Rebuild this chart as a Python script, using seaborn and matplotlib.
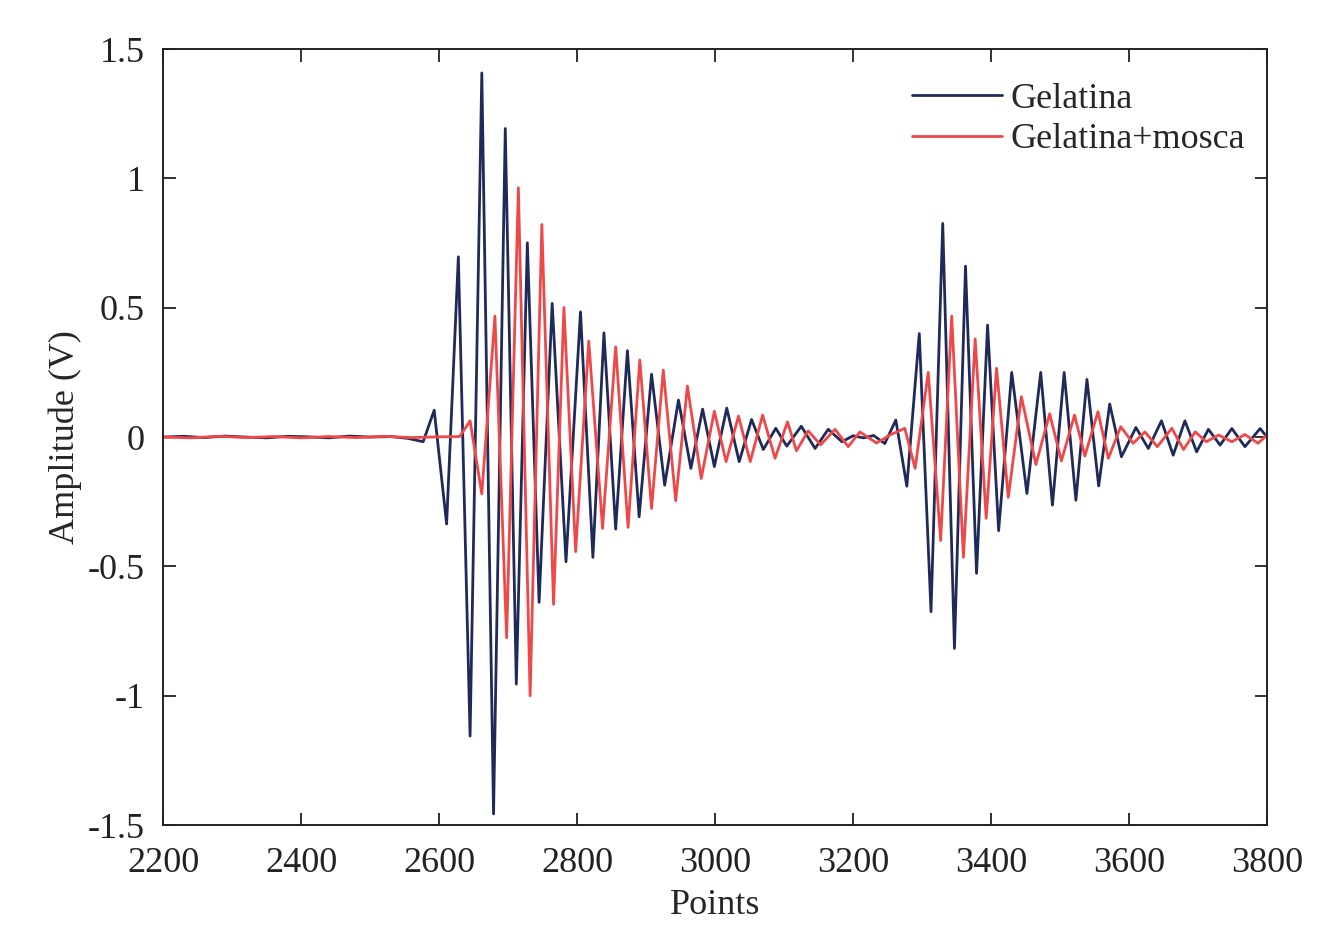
import numpy as np
import pandas as pd
import matplotlib
matplotlib.use("Agg")
import matplotlib.pyplot as plt
import seaborn as sns

# extrema (points, volts)
gel_x = [2200, 2230, 2260, 2290, 2320, 2350, 2380, 2410, 2440, 2470, 2500, 2530, 2555,
         2577, 2593, 2611, 2628, 2645, 2662, 2679, 2696, 2712, 2728, 2745, 2764, 2784,
         2805, 2823, 2839, 2856, 2873, 2890, 2908, 2927, 2947, 2965, 2982, 2999, 3017,
         3035, 3053, 3070, 3088, 3104, 3125, 3145, 3164, 3184, 3200, 3215, 3230, 3246,
         3262, 3278, 3296, 3313, 3330, 3347, 3363, 3379, 3395, 3411, 3430, 3452, 3472,
         3489, 3506, 3523, 3539, 3556, 3572, 3589, 3610, 3628, 3647, 3664, 3681, 3698,
         3715, 3732, 3749, 3768, 3790, 3800]
gel_y = [0.0, 0.003, -0.002, 0.004, 0.0, -0.003, 0.003, 0.001, -0.003, 0.004, 0.0, 0.002, -0.005,
         -0.018, 0.104, -0.336, 0.697, -1.156, 1.408, -1.457, 1.193, -0.955, 0.751, -0.639, 0.517, -0.482,
         0.484, -0.465, 0.403, -0.356, 0.334, -0.308, 0.243, -0.186, 0.143, -0.121, 0.108, -0.114, 0.112,
         -0.095, 0.068, -0.048, 0.034, -0.035, 0.042, -0.044, 0.030, -0.018, 0.005, -0.003, 0.006, -0.025,
         0.066, -0.190, 0.400, -0.675, 0.826, -0.817, 0.661, -0.527, 0.433, -0.362, 0.250, -0.218, 0.250,
         -0.263, 0.250, -0.244, 0.223, -0.189, 0.128, -0.076, 0.037, -0.044, 0.063, -0.070, 0.063, -0.057,
         0.030, -0.031, 0.033, -0.037, 0.033, 0.0]

mos_x = [2200, 2240, 2280, 2320, 2360, 2400, 2440, 2480, 2520, 2560, 2600, 2630,
         2645, 2662, 2681, 2698, 2715, 2732, 2749, 2766, 2781, 2798, 2817, 2837, 2856,
         2874, 2891, 2908, 2925, 2943, 2960, 2980, 2999, 3016, 3034, 3051, 3069, 3087,
         3105, 3118, 3135, 3153, 3174, 3193, 3210, 3234, 3255, 3275, 3290, 3309, 3327,
         3343, 3360, 3377, 3393, 3408, 3425, 3444, 3465, 3485, 3502, 3521, 3536, 3555,
         3570, 3588, 3606, 3623, 3641, 3662, 3679, 3696, 3712, 3730, 3749, 3768, 3787, 3800]
mos_y = [0.0, -0.003, 0.003, -0.002, 0.002, -0.003, 0.002, -0.002, 0.003, -0.002, 0.001, 0.002,
         0.063, -0.220, 0.468, -0.776, 0.964, -1.0, 0.822, -0.647, 0.501, -0.443, 0.371, -0.353, 0.349,
         -0.349, 0.298, -0.276, 0.259, -0.246, 0.197, -0.160, 0.100, -0.095, 0.081, -0.095, 0.085, -0.082,
         0.059, -0.053, 0.024, -0.030, 0.030, -0.037, 0.020, -0.023, 0.010, 0.034, -0.121, 0.250, -0.400,
         0.468, -0.465, 0.380, -0.314, 0.266, -0.233, 0.156, -0.106, 0.090, -0.092, 0.085, -0.073, 0.098,
         -0.082, 0.040, -0.024, 0.020, -0.037, 0.034, -0.048, 0.020, -0.018, 0.008, -0.018, 0.010, -0.024, 0.008]

x_ticks = [2200, 2400, 2600, 2800, 3000, 3200, 3400, 3600, 3800]
y_ticks = [-1.5, -1, -0.5, 0, 0.5, 1, 1.5]
y_labels = ['-1.5', '-1', '-0.5', '0', '0.5', '1', '1.5']

sns.set_style("ticks")
plt.rcParams['font.family'] = ['Liberation Serif', 'DejaVu Serif']
plt.rcParams['xtick.direction'] = 'in'
plt.rcParams['ytick.direction'] = 'in'

df = pd.concat([
    pd.DataFrame({'Points': gel_x, 'Amp': gel_y, 'serie': 'Gelatina'}),
    pd.DataFrame({'Points': mos_x, 'Amp': mos_y, 'serie': 'Gelatina+mosca'}),
])

fig = plt.figure(figsize=(13.19, 9.27), dpi=100)
ax = fig.add_axes([0.1236, 0.110, 0.837, 0.837])

sns.lineplot(data=df, x='Points', y='Amp', hue='serie', estimator=None, sort=False,
             palette={'Gelatina': '#1f2a5a', 'Gelatina+mosca': '#f04848'},
             linewidth=2.0, ax=ax)
for ln in ax.get_lines():
    ln.set_solid_joinstyle('round')

ax.set_xlim(2200, 3800)
ax.set_ylim(-1.5, 1.5)
ax.set_xticks(x_ticks)
ax.set_yticks(y_ticks)
ax.set_yticklabels(y_labels)
ax.tick_params(labelsize=26, length=9, width=1.3, top=True, right=True, colors='#222222')
ax.tick_params(axis='x', pad=16)
ax.tick_params(axis='y', pad=13)
for s in ax.spines.values():
    s.set_linewidth(1.4)
    s.set_color('#222222')

ax.set_xlabel('Points', fontsize=26, labelpad=6)
ax.set_ylabel('Amplitude (V)', fontsize=26, labelpad=4)

leg = ax.legend(loc='upper right', bbox_to_anchor=(1.0, 0.985), frameon=False, fontsize=26,
                handlelength=2.5, handletextpad=0.25, borderaxespad=0.2, labelspacing=0.2)
leg.set_title(None)

fig.savefig('out.png', dpi=100)
